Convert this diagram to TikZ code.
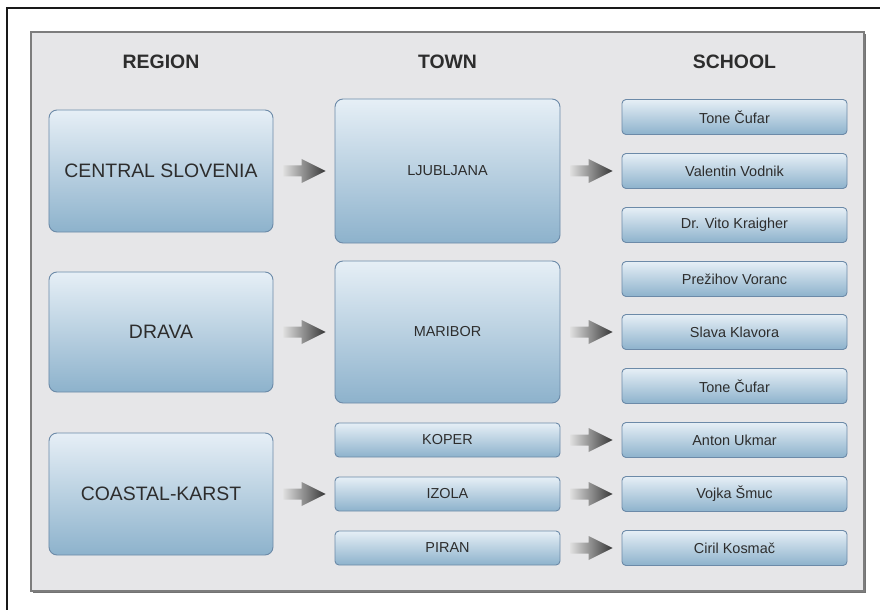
\documentclass[tikz,border=0pt]{standalone}
\usepackage{fontspec}
\setmainfont{Liberation Sans}
\usetikzlibrary{calc}
\definecolor{boxtop}{RGB}{230,239,246}
\definecolor{boxbot}{RGB}{141,178,204}
\definecolor{boxline}{RGB}{108,138,168}
\definecolor{panelfill}{RGB}{230,230,232}
\definecolor{panelline}{RGB}{125,125,125}
\definecolor{txt}{RGB}{45,45,45}
\definecolor{arrlight}{RGB}{222,222,222}
\definecolor{arrdark}{RGB}{55,55,55}
\newcommand{\blockarr}[2]{%
  \shade[left color=arrlight, right color=arrdark]
    let \p1=(#1.east), \p2=(#2.west) in
    (\x1+10bp,\y1+5.5bp) -- (\x2-33bp,\y1+5.5bp) -- (\x2-33bp,\y1+12bp)
    -- (\x2-9bp,\y1) -- (\x2-33bp,\y1-12bp) -- (\x2-33bp,\y1-5.5bp)
    -- (\x1+10bp,\y1-5.5bp) -- cycle;}
\begin{document}
\begin{tikzpicture}[x=1bp,y=-1bp,
  basebox/.style={draw=boxline, line width=0.9bp, top color=boxtop, bottom color=boxbot,
     text=txt, inner sep=0pt, align=center},
  regbox/.style={basebox, rounded corners=8bp, minimum width=224bp,
     font=\fontsize{19.5}{22}\selectfont},
  townbig/.style={basebox, rounded corners=8bp, minimum width=225bp,
     font=\fontsize{14.5}{17}\selectfont},
  smallbox/.style={basebox, rounded corners=4bp, minimum width=225bp, minimum height=35bp,
     font=\fontsize{14.5}{17}\selectfont},
  header/.style={font=\bfseries\fontsize{19.5}{22}\selectfont, text=txt, inner sep=0pt}]
\useasboundingbox (0,0) rectangle (880,610);
\fill[white] (0,0) rectangle (880,610);
\draw[line width=2.2bp, black!90] (880,8) -- (7,8) -- (7,610);
\draw[line width=1.8bp, black!55] (33,592) -- (865,592) -- (865,34);
\draw[fill=panelfill, draw=panelline, line width=1.2bp] (31,32) rectangle (864,591);

\node[header] (hreg) at (161,62) {REGION};
\node[header] (htown) at (447.5,62) {TOWN};
\node[header] (hsch) at (734.5,62) {SCHOOL};

\node[regbox, minimum height=122bp] (reg1) at (161,171) {CENTRAL SLOVENIA};
\node[regbox, minimum height=120bp] (reg2) at (161,332) {DRAVA};
\node[regbox, minimum height=122bp] (reg3) at (161,494) {COASTAL-KARST};

\node[townbig, minimum height=144bp] (town1) at (447.5,171) {LJUBLJANA};
\node[townbig, minimum height=142bp] (town2) at (447.5,332) {MARIBOR};
\node[smallbox, minimum height=34bp] (town3) at (447.5,440) {KOPER};
\node[smallbox, minimum height=34bp] (town4) at (447.5,494) {IZOLA};
\node[smallbox, minimum height=34bp] (town5) at (447.5,548) {PIRAN};

\node[smallbox] (sch1) at (734.5,117) {Tone Čufar};
\node[smallbox] (sch2) at (734.5,171) {Valentin Vodnik};
\node[smallbox] (sch3) at (734.5,225) {Dr. Vito Kraigher};
\node[smallbox] (sch4) at (734.5,279) {Prežihov Voranc};
\node[smallbox] (sch5) at (734.5,332) {Slava Klavora};
\node[smallbox] (sch6) at (734.5,386) {Tone Čufar};
\node[smallbox] (sch7) at (734.5,440) {Anton Ukmar};
\node[smallbox] (sch8) at (734.5,494) {Vojka Šmuc};
\node[smallbox] (sch9) at (734.5,548) {Ciril Kosmač};

\blockarr{reg1}{town1}
\blockarr{reg2}{town2}
\blockarr{reg3}{town4}
\blockarr{town1}{sch2}
\blockarr{town2}{sch5}
\blockarr{town3}{sch7}
\blockarr{town4}{sch8}
\blockarr{town5}{sch9}
\end{tikzpicture}
\end{document}
